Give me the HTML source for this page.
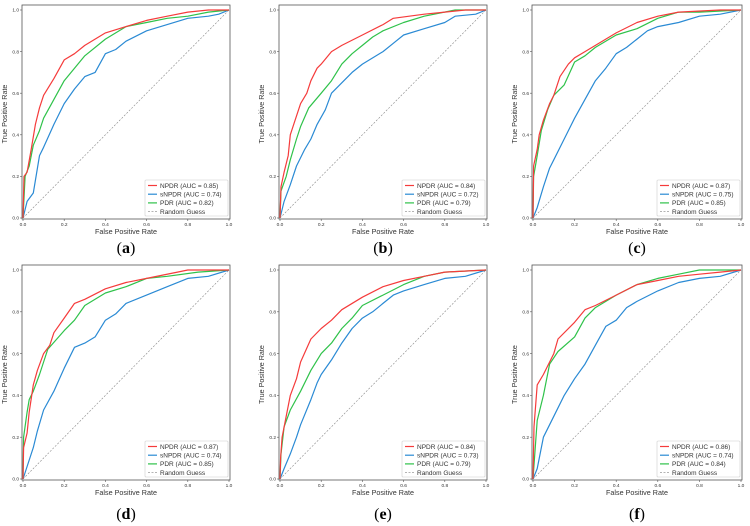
<!DOCTYPE html>
<html><head><meta charset="utf-8"><style>
html,body{margin:0;padding:0;background:#fff;}
svg{display:block;font-family:"Liberation Sans",sans-serif;}
</style></head><body>
<svg id="fig" width="750" height="526" viewBox="0 0 750 526" xmlns="http://www.w3.org/2000/svg"></svg>
<script>
const panelIds = ['a','b','c','d','e','f'];
const aucNPDR = ['0.85','0.84','0.87','0.87','0.84','0.86'];
const aucSNPDR = ['0.74','0.72','0.75','0.74','0.73','0.74'];
const aucPDR = ['0.82','0.79','0.85','0.85','0.79','0.84'];
const tickValues = [0,0.2,0.4,0.6,0.8,1.0];
const tickLabels = ['0.0','0.2','0.4','0.6','0.8','1.0'];

const npdrFpr = [
 [0,0.005,0.02,0.04,0.06,0.08,0.1,0.15,0.2,0.25,0.3,0.4,0.5,0.6,0.7,0.8,0.9,1],
 [0,0.005,0.02,0.04,0.05,0.07,0.1,0.13,0.15,0.18,0.2,0.25,0.3,0.4,0.5,0.55,0.7,0.8,0.9,1],
 [0,0.003,0.02,0.03,0.05,0.08,0.1,0.13,0.17,0.2,0.25,0.3,0.4,0.5,0.6,0.7,0.9,1],
 [0,0.003,0.02,0.03,0.05,0.07,0.1,0.13,0.15,0.2,0.25,0.3,0.4,0.5,0.6,0.75,0.8,1],
 [0,0.003,0.01,0.03,0.05,0.08,0.1,0.15,0.2,0.25,0.3,0.4,0.5,0.6,0.7,0.8,1],
 [0,0.005,0.02,0.05,0.1,0.12,0.2,0.25,0.3,0.4,0.5,0.6,0.7,0.8,0.9,1]];
const npdrTpr = [
 [0,0.2,0.22,0.33,0.45,0.53,0.59,0.67,0.76,0.79,0.83,0.89,0.92,0.95,0.97,0.99,1,1],
 [0,0.15,0.22,0.3,0.4,0.46,0.55,0.6,0.66,0.72,0.74,0.8,0.83,0.88,0.93,0.96,0.98,0.99,1,1],
 [0,0.25,0.33,0.4,0.47,0.55,0.59,0.68,0.74,0.77,0.8,0.83,0.89,0.94,0.97,0.99,1,1],
 [0,0.15,0.22,0.32,0.45,0.52,0.6,0.64,0.7,0.77,0.84,0.86,0.91,0.94,0.96,0.99,1,1],
 [0,0.1,0.2,0.3,0.4,0.48,0.56,0.67,0.72,0.76,0.81,0.87,0.92,0.95,0.97,0.99,1],
 [0,0.25,0.45,0.5,0.6,0.67,0.75,0.81,0.83,0.88,0.93,0.95,0.97,0.98,0.99,1]];
const snpdrFpr = [
 [0,0.02,0.05,0.08,0.1,0.15,0.2,0.25,0.3,0.35,0.4,0.45,0.5,0.6,0.7,0.8,0.9,0.95,1],
 [0,0.02,0.05,0.08,0.12,0.15,0.18,0.22,0.25,0.3,0.35,0.4,0.5,0.55,0.6,0.7,0.8,0.85,0.95,1],
 [0,0.02,0.05,0.08,0.1,0.15,0.2,0.25,0.3,0.35,0.4,0.45,0.5,0.55,0.6,0.7,0.8,0.9,1],
 [0,0.02,0.05,0.07,0.1,0.15,0.2,0.25,0.3,0.35,0.4,0.45,0.5,0.6,0.7,0.8,0.9,1],
 [0,0.02,0.05,0.08,0.1,0.15,0.18,0.2,0.25,0.3,0.35,0.4,0.45,0.5,0.55,0.6,0.7,0.8,0.9,1],
 [0,0.02,0.05,0.1,0.15,0.2,0.25,0.3,0.35,0.4,0.45,0.5,0.6,0.7,0.8,0.9,1]];
const snpdrTpr = [
 [0,0.08,0.12,0.3,0.34,0.45,0.55,0.62,0.68,0.7,0.79,0.81,0.85,0.9,0.93,0.96,0.97,0.98,1],
 [0,0.08,0.16,0.25,0.33,0.38,0.45,0.52,0.6,0.65,0.7,0.74,0.8,0.84,0.88,0.91,0.94,0.97,0.98,1],
 [0,0.05,0.15,0.24,0.28,0.38,0.48,0.57,0.66,0.72,0.79,0.82,0.86,0.9,0.92,0.94,0.97,0.98,1],
 [0,0.06,0.15,0.23,0.33,0.42,0.53,0.63,0.65,0.68,0.76,0.79,0.84,0.88,0.92,0.96,0.97,1],
 [0,0.05,0.12,0.2,0.26,0.38,0.46,0.5,0.57,0.65,0.72,0.77,0.8,0.84,0.88,0.9,0.93,0.96,0.97,1],
 [0,0.05,0.2,0.3,0.4,0.48,0.55,0.64,0.73,0.76,0.82,0.85,0.9,0.94,0.96,0.97,1]];
const pdrFpr = [
 [0,0.01,0.03,0.05,0.08,0.1,0.15,0.2,0.25,0.3,0.4,0.5,0.6,0.7,0.8,0.9,1],
 [0,0.005,0.03,0.05,0.08,0.1,0.14,0.2,0.25,0.3,0.35,0.4,0.45,0.5,0.6,0.7,0.85,1],
 [0,0.003,0.02,0.04,0.07,0.1,0.15,0.2,0.25,0.3,0.4,0.5,0.6,0.7,0.8,1],
 [0,0.003,0.02,0.03,0.05,0.08,0.1,0.12,0.2,0.25,0.3,0.4,0.5,0.6,0.7,0.85,1],
 [0,0.005,0.02,0.05,0.1,0.15,0.2,0.25,0.3,0.35,0.4,0.5,0.6,0.7,0.8,1],
 [0,0.02,0.05,0.08,0.12,0.2,0.25,0.3,0.4,0.5,0.6,0.7,0.8,1]];
const pdrTpr = [
 [0,0.2,0.25,0.35,0.42,0.48,0.57,0.66,0.72,0.78,0.86,0.92,0.94,0.96,0.97,0.99,1],
 [0,0.13,0.2,0.28,0.38,0.44,0.53,0.6,0.66,0.74,0.79,0.83,0.87,0.9,0.94,0.97,1,1],
 [0,0.2,0.3,0.42,0.52,0.59,0.64,0.75,0.78,0.82,0.88,0.91,0.96,0.99,0.99,1],
 [0,0.2,0.32,0.38,0.42,0.5,0.56,0.62,0.71,0.76,0.83,0.89,0.92,0.96,0.97,0.99,1],
 [0,0.12,0.25,0.33,0.42,0.52,0.6,0.65,0.72,0.77,0.83,0.88,0.93,0.97,0.99,1],
 [0,0.28,0.4,0.55,0.61,0.68,0.77,0.82,0.88,0.93,0.96,0.98,1,1]];

const NS='http://www.w3.org/2000/svg';
const svg=document.getElementById('fig');
const colX0=[23,280,533], colX1=[229,486,741];
const rowY0=[218,479], rowY1=[10,270];
function mk(tag,attrs,parent,text){const e=document.createElementNS(NS,tag);for(const k in attrs)e.setAttribute(k,attrs[k]);if(text!==undefined)e.textContent=text;parent.appendChild(e);return e;}

for(let p=0;p<6;p++){
  const c=p%3,r=Math.floor(p/3);
  const x0=colX0[c],x1=colX1[c],y0=rowY0[r],y1=rowY1[r];
  const sx=v=>x0+(x1-x0)*v, sy=v=>y0-(y0-y1)*v;
  const g=mk('g',{},svg);
  
  
  const top=y1-5,left=x0-1,right=x1+1,bottom=y0+1;
  const frame=mk('rect',{x:left,y:top,width:right-left,height:bottom-top,fill:'#fff',stroke:'#555','stroke-width':0.8},g);
  
  
  for(let i=0;i<tickValues.length;i++){
    const tx=sx(tickValues[i]),ty=sy(tickValues[i]);
    mk('line',{x1:tx,y1:bottom,x2:tx,y2:bottom+2,stroke:'#555','stroke-width':0.6},g);
    const xl=mk('text',{x:tx,y:bottom+7,'font-size':4.8,'text-anchor':'middle',fill:'#333'},g,tickLabels[i]);
    
    
    mk('line',{x1:left,y1:ty,x2:left-2,y2:ty,stroke:'#555','stroke-width':0.6},g);
    const yl=mk('text',{x:left-3,y:ty+1.7,'font-size':4.8,'text-anchor':'end',fill:'#333'},g,tickLabels[i]);
    
    
  }
  const xt=mk('text',{x:(x0+x1)/2,y:bottom+15,'font-size':7.2,'text-anchor':'middle',fill:'#333'},g,'False Positive Rate');
  
  
  const ym=(y0+y1)/2, yx=left-15;
  const yt=mk('text',{x:yx,y:ym,'font-size':7.2,'text-anchor':'middle',fill:'#333',transform:`rotate(-90 ${yx} ${ym})`},g,'True Positive Rate');
  
  
  const diag=mk('line',{x1:sx(0),y1:sy(0),x2:sx(1),y2:sy(1),stroke:'#888','stroke-width':0.6,'stroke-dasharray':'2,1.5'},g);
  
  
  const series=[[snpdrFpr[p],snpdrTpr[p],'#2a8ad4','snpdr-curve'],[pdrFpr[p],pdrTpr[p],'#2fc24a','pdr-curve'],[npdrFpr[p],npdrTpr[p],'#f53b3b','npdr-curve']];
  for(const s of series){
    const pts=s[0].map((v,i)=>sx(v).toFixed(1)+','+sy(s[1][i]).toFixed(1)).join(' ');
    const pl=mk('polyline',{points:pts,fill:'none',stroke:s[2],'stroke-width':1.2,'stroke-linejoin':'round'},g);
    
    
  }
  const lw=83,lh=36,lx=right-lw-2,ly=bottom-lh-3;
  const lg=mk('g',{},g);
  
  
  mk('rect',{x:lx,y:ly,width:lw,height:lh,fill:'#fff','fill-opacity':0.85,stroke:'#ccc','stroke-width':0.6,rx:1},lg);
  const entries=[['NPDR (AUC = '+aucNPDR[p]+')','#f53b3b',''],['sNPDR (AUC = '+aucSNPDR[p]+')','#2a8ad4',''],['PDR (AUC = '+aucPDR[p]+')','#2fc24a',''],['Random Guess','#888','2,1.5']];
  entries.forEach((e,i)=>{
    const ey=ly+5.5+i*8.7;
    const le=mk('g',{},lg);
    
    
    const la={x1:lx+3,y1:ey,x2:lx+12,y2:ey,stroke:e[1],'stroke-width':e[2]?0.6:1.2};
    if(e[2])la['stroke-dasharray']=e[2];
    mk('line',la,le);
    mk('text',{x:lx+15,y:ey+2.3,'font-size':6.5,fill:'#333'},le,e[0]);
  });
  const cap=mk('text',{x:(x0+x1)/2,y:r===0?253:519,'font-size':16,'text-anchor':'middle',fill:'#000','font-family':'Liberation Serif, serif'},g,'(');
  const tb=mk('tspan',{'font-weight':'bold'},cap,panelIds[p]);
  mk('tspan',{},cap,')');
  
  
}
</script>
</body></html>
